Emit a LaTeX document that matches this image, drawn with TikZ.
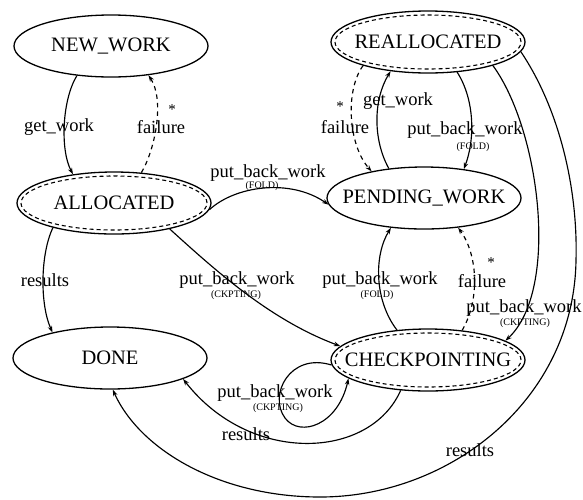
\documentclass[tikz,border=0pt]{standalone}
\usepackage{fontspec}
\setmainfont{Liberation Serif}
\usetikzlibrary{arrows.meta,shapes.geometric}

\tikzset{
  state/.style={ellipse, draw, line width=1.3pt, minimum width=194pt,
    minimum height=62pt, inner sep=0pt, font=\fontsize{20.5}{24}\selectfont},
  inner dash/.style={line width=1.1pt, dash pattern=on 4pt off 3pt},
  edge/.style={line width=1.15pt, -{Stealth[length=6.5pt,width=4.5pt]}},
  fail/.style={edge, dash pattern=on 4.5pt off 4pt},
  lbl/.style={inner sep=0pt, font=\fontsize{18.5}{20}\selectfont},
  sub/.style={inner sep=0pt, font=\fontsize{10}{12}\selectfont},
  star/.style={inner sep=0pt, font=\fontsize{15}{15}\selectfont},
}

\begin{document}
\begin{tikzpicture}[x=1pt,y=-1pt]
\useasboundingbox (0,0) rectangle (583,499);

% states
\node[state] (nw) at (111,46)  {\makebox[0pt]{NEW\_WORK}};
\node[state] (al) at (114,203) {\makebox[0pt]{ALLOCATED}};
\node[state] (re) at (428,42)  {\makebox[0pt]{REALLOCATED}};
\node[state] (pw) at (424,198) {\makebox[0pt]{PENDING\_WORK}};
\node[state] (dn) at (110,358) {\makebox[0pt]{DONE}};
\node[state] (ck) at (428,360) {\makebox[0pt]{CHECKPOINTING}};

% dashed inner outlines of the transient states
\draw[inner dash] (al.center) ellipse [x radius=93pt, y radius=27pt];
\draw[inner dash] (re.center) ellipse [x radius=93pt, y radius=27pt];
\draw[inner dash] (ck.center) ellipse [x radius=93pt, y radius=27pt];

% NEW_WORK <-> ALLOCATED
\draw[edge] (nw.221) .. controls (62,100) and (60,150) .. (al.145);
\draw[fail] (al.48) .. controls (155,150) and (165,100) .. (nw.-38);
\node[lbl] (l1) at (59,127) {get\_work};
\node[lbl] (l2) at (161,127) {failure};
\node[star] (s1) at (172,110) {*};

% ALLOCATED -> PENDING_WORK
\draw[edge] (al.-4) .. controls (235,186) and (290,178) .. (pw.184);
\node[lbl] (l3) at (268,173) {put\_back\_work};
\node[sub] (l3s) at (262,186) {(FOLD)};

% ALLOCATED -> DONE
\draw[edge] (al.202) .. controls (40,255) and (40,305) .. (dn.156);
\node[lbl] (l4) at (45,280) {results};

% ALLOCATED -> CHECKPOINTING
\draw[edge] (al.-25) .. controls (215,270) and (270,320) .. (ck.171);
\node[lbl] (l5) at (237,280) {put\_back\_work};
\node[sub] (l5s) at (236,295) {(CKPTING)};

% PENDING_WORK <-> REALLOCATED
\draw[edge] (pw.140) .. controls (373,140) and (373,100) .. (re.218);
\draw[edge] (re.-46) .. controls (475,100) and (475,140) .. (pw.36);
\draw[fail] (re.200) .. controls (345,90) and (348,145) .. (pw.153);
\node[lbl] (l6) at (398,101) {get\_work};
\node[lbl] (l7) at (465,130) {put\_back\_work};
\node[sub] (l7s) at (473,147) {(FOLD)};
\node[lbl] (l8) at (345,127) {failure};
\node[star] (s2) at (340,107) {*};

% CHECKPOINTING -> PENDING_WORK
\draw[edge] (ck.136) .. controls (374,300) and (374,255) .. (pw.222);
\draw[fail] (ck.41) .. controls (480,300) and (478,255) .. (pw.-41);
\node[lbl] (l9) at (380,280) {put\_back\_work};
\node[sub] (l9s) at (377,295) {(FOLD)};
\node[lbl] (l10) at (482,281) {failure};
\node[star] (s3) at (491,263) {*};

% REALLOCATED -> CHECKPOINTING
\draw[edge] (re.-20) .. controls (540,130) and (560,290) .. (ck.14);
\node[lbl] (l11) at (524,308) {put\_back\_work};
\node[sub] (l11s) at (525,323) {(CKPTING)};

% REALLOCATED -> DONE
\draw[edge] (re.-6) .. controls (560,110) and (578,190) .. (576,260)
  .. controls (574,400) and (450,497) .. (320,497)
  .. controls (220,497) and (140,450) .. (dn.-85);
\node[lbl] (l12) at (470,450) {results};

% CHECKPOINTING self loop
\draw[edge] (ck.183) .. controls (290,352) and (268,395) .. (285,418)
  .. controls (300,438) and (338,425) .. (ck.193);
\node[lbl] (l13) at (275,393) {put\_back\_work};
\node[sub] (l13s) at (278,408) {(CKPTING)};

% CHECKPOINTING -> DONE
\draw[edge] (ck.228) .. controls (370,460) and (250,465) .. (dn.-16);
\node[lbl] (l14) at (246,434) {results};

\end{tikzpicture}
\end{document}
